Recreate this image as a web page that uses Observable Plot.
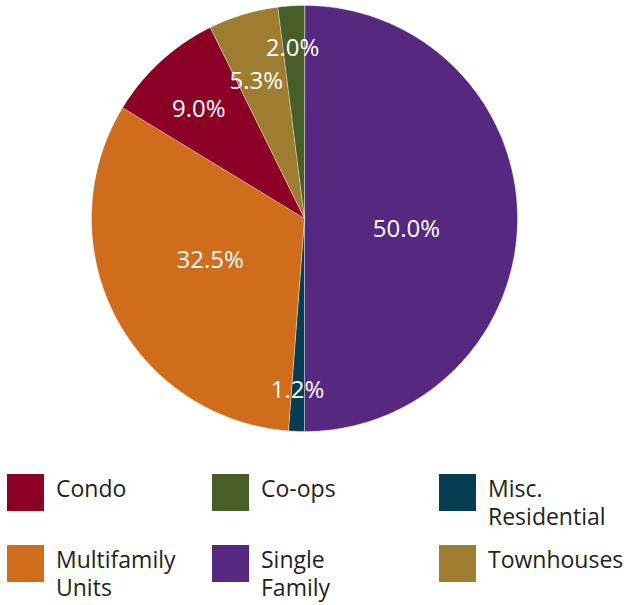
<!DOCTYPE html>
<html>
<head>
<meta charset="utf-8">
<script src="https://cdn.jsdelivr.net/npm/d3@7"></script>
<script src="https://cdn.jsdelivr.net/npm/@observablehq/plot@0.6"></script>
<style>
  html, body { margin: 0; padding: 0; background: #fff; }
  #chart { position: relative; width: 624px; height: 605px; font-family: "Open Sans", sans-serif; }
  #chart svg { position: absolute; left: 0; top: 0; }
  .item { position: absolute; }
  .sw { position: absolute; left: 0; top: 0; width: 37px; height: 37px; }
  .lbl { position: absolute; left: 49px; top: 0px; font-size: 23px; line-height: 28px; color: #231f20; white-space: nowrap; }
</style>
</head>
<body>
<div id="chart"></div>
<script>
// ---- data (clockwise from 12 o'clock) ----
const categories = ["Single Family", "Misc. Residential", "Multifamily Units", "Condo", "Townhouses", "Co-ops"];
const shares = [50.0, 1.2, 32.5, 9.0, 5.3, 2.0];
const valueLabels = ["50.0%", "1.2%", "32.5%", "9.0%", "5.3%", "2.0%"];
const colors = ["#57287f", "#053d52", "#cf6d1c", "#8c0026", "#9e7c30", "#485e29"];
const legendOrder = ["Condo", "Co-ops", "Misc. Residential", "Multifamily Units", "Single Family", "Townhouses"];
const legendText = {
  "Condo": ["Condo"], "Co-ops": ["Co-ops"], "Misc. Residential": ["Misc.", "Residential"],
  "Multifamily Units": ["Multifamily", "Units"], "Single Family": ["Single", "Family"], "Townhouses": ["Townhouses"]
};

// label placement: fraction of radius and small angular nudge (degrees)
const labelRadius = {"Single Family": 0.48, "Misc. Residential": 0.80, "Multifamily Units": 0.48, "Condo": 0.72, "Townhouses": 0.69, "Co-ops": 0.81};
const labelNudge = {"Single Family": 4.8, "Misc. Residential": 0.2, "Multifamily Units": 4.4, "Condo": -1.1, "Townhouses": -2.4, "Co-ops": -0.4};

const pie = d3.pie().sort(null).value(d => d.v)(categories.map((c, i) => ({c, v: shares[i], label: valueLabels[i]})));

const pts = [];
const labels = [];
for (const s of pie) {
  const a0 = s.startAngle, a1 = s.endAngle;
  const n = Math.max(2, Math.ceil((a1 - a0) / (Math.PI / 360)));
  pts.push({c: s.data.c, x: 0, y: 0});
  for (let k = 0; k <= n; k++) {
    const a = a0 + (a1 - a0) * k / n;
    pts.push({c: s.data.c, x: Math.sin(a), y: Math.cos(a)});
  }
  const m = (a0 + a1) / 2 + labelNudge[s.data.c] * Math.PI / 180, r = labelRadius[s.data.c];
  labels.push({c: s.data.c, x: r * Math.sin(m), y: r * Math.cos(m), text: s.data.label});
}

const plot = Plot.plot({
  width: 624,
  height: 440,
  marginLeft: 91,
  marginRight: 107,
  marginTop: 5,
  marginBottom: 9,
  x: {domain: [-1, 1], axis: null},
  y: {domain: [-1, 1], axis: null},
  color: {domain: categories, range: colors},
  style: {fontFamily: "Open Sans, sans-serif", background: "white"},
  marks: [
    Plot.line(pts, {x: "x", y: "y", z: "c", fill: "c", stroke: "#ffffff", strokeOpacity: 0.55, strokeWidth: 0.7, curve: "linear-closed"}),
    Plot.text(labels, {x: "x", y: "y", text: "text", fill: "white", fontSize: 24, dy: 2})
  ]
});

const chart = document.getElementById("chart");
chart.appendChild(plot);

const colX = [7, 212, 439];
const rowY = [474, 545];
legendOrder.forEach((c, i) => {
  const item = document.createElement("div");
  item.className = "item";
  item.style.left = colX[i % 3] + "px";
  item.style.top = rowY[Math.floor(i / 3)] + "px";
  const sw = document.createElement("div");
  sw.className = "sw";
  sw.style.background = colors[categories.indexOf(c)];
  const lb = document.createElement("div");
  lb.className = "lbl";
  lb.innerHTML = legendText[c].join("<br>");
  item.appendChild(sw);
  item.appendChild(lb);
  chart.appendChild(item);
});
</script>
</body>
</html>
